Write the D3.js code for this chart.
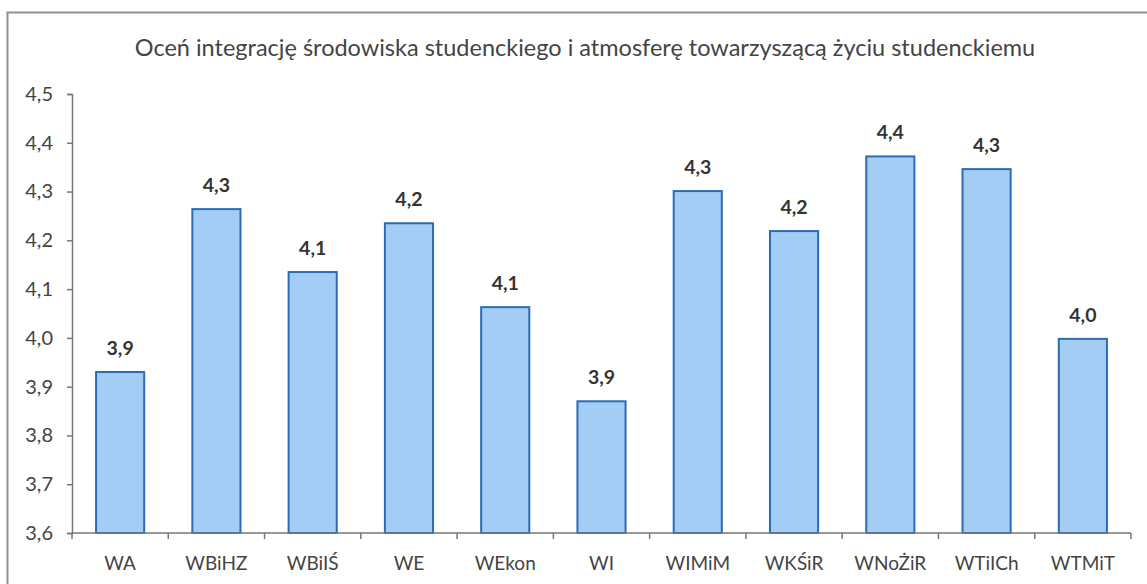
<!DOCTYPE html>
<html>
<head>
<meta charset="utf-8">
<script src="https://cdn.jsdelivr.net/npm/d3@7"></script>
<style>
  html, body { margin: 0; padding: 0; background: #fff; }
  svg { display: block; }
  text { font-family: Lato, "Open Sans", sans-serif; }
</style>
</head>
<body>
<div id="chart"></div>
<script>
(() => {
  const W = 1147;
  const H = 584;

  // -----------------------------
  // Data
  // -----------------------------
  const title = "Oceń integrację środowiska studenckiego i atmosferę towarzyszącą życiu studenckiemu";
  const categories = ["WA", "WBiHZ", "WBiIŚ", "WE", "WEkon", "WI", "WIMiM", "WKŚiR", "WNoŻiR", "WTiICh", "WTMiT"];
  const values = [3.93, 4.264, 4.135, 4.235, 4.063, 3.87, 4.301, 4.219, 4.372, 4.346, 3.998];
  const yTicks = [3.6, 3.7, 3.8, 3.9, 4.0, 4.1, 4.2, 4.3, 4.4, 4.5];

  const data = categories.map((c, i) => ({ cat: c, value: values[i] }));
  const fmt = (v) => d3.format(".1f")(v).replace(".", ",");

  const margin = { left: 72, right: 16, top: 94, bottom: 51 };

  const svg = d3.select("#chart")
    .append("svg")
    .attr("width", W)
    .attr("height", H);

  // chart frame (right/bottom edges fall outside the picture)
  svg.append("rect")
    .attr("x", 7.5)
    .attr("y", 12.5)
    .attr("width", W + 10)
    .attr("height", H + 10)
    .attr("fill", "none")
    .attr("stroke", "#8f8f8f")
    .attr("stroke-width", 2);

  svg.append("text")
    .attr("x", 585)
    .attr("y", 56)
    .attr("text-anchor", "middle")
    .attr("font-size", 23.5)
    .attr("fill", "#444")
    .text(title);

  const x = d3.scaleBand()
    .domain(categories)
    .range([margin.left, 1131])
    .paddingInner(0.5)
    .paddingOuter(0.25);

  const y = d3.scaleLinear()
    .domain([3.6, 4.5])
    .range([H - margin.bottom, margin.top]);

  // bars
  svg.append("g")
    .selectAll("rect.bar")
    .data(data)
    .join("rect")
    .attr("class", "bar")
    .attr("x", (d) => x(d.cat))
    .attr("y", (d) => y(d.value))
    .attr("width", x.bandwidth())
    .attr("height", (d) => y(3.6) - y(d.value))
    .attr("fill", "#a3cdf5")
    .attr("stroke", "#2a6db5")
    .attr("stroke-width", 2);

  // value labels
  svg.append("g")
    .selectAll("text.val")
    .data(data)
    .join("text")
    .attr("class", "val")
    .attr("x", (d) => x(d.cat) + x.bandwidth() / 2)
    .attr("y", (d) => y(d.value) - 17)
    .attr("text-anchor", "middle")
    .attr("font-size", 19.5)
    .attr("font-weight", "bold")
    .attr("fill", "#333")
    .text((d) => fmt(d.value));

  // y axis
  const yAxis = svg.append("g")
    .attr("transform", `translate(${margin.left},0)`)
    .call(d3.axisLeft(y).tickValues(yTicks).tickFormat(fmt).tickSize(5).tickPadding(14));
  yAxis.select(".domain").attr("stroke", "#777").attr("stroke-width", 1.5);
  yAxis.selectAll(".tick line").attr("stroke", "#777").attr("stroke-width", 1.5);
  yAxis.selectAll(".tick text")
    .attr("font-size", 20)
    .attr("fill", "#444")
    .attr("font-family", "Lato, 'Open Sans', sans-serif");

  // x axis: ticks at category boundaries
  const step = x.step();
  const boundaries = d3.range(categories.length + 1).map((i) => margin.left + i * step);
  const xg = svg.append("g");
  xg.append("line")
    .attr("x1", margin.left)
    .attr("x2", boundaries[boundaries.length - 1])
    .attr("y1", y(3.6))
    .attr("y2", y(3.6))
    .attr("stroke", "#777")
    .attr("stroke-width", 1.5);
  xg.selectAll("line.tk")
    .data(boundaries)
    .join("line")
    .attr("class", "tk")
    .attr("x1", (d) => d)
    .attr("x2", (d) => d)
    .attr("y1", y(3.6))
    .attr("y2", y(3.6) + 6)
    .attr("stroke", "#777")
    .attr("stroke-width", 1.5);
  xg.selectAll("text")
    .data(categories)
    .join("text")
    .attr("x", (d) => x(d) + x.bandwidth() / 2)
    .attr("y", y(3.6) + 37)
    .attr("text-anchor", "middle")
    .attr("font-size", 19)
    .attr("fill", "#444")
    .text((d) => d);
})();
</script>
</body>
</html>
